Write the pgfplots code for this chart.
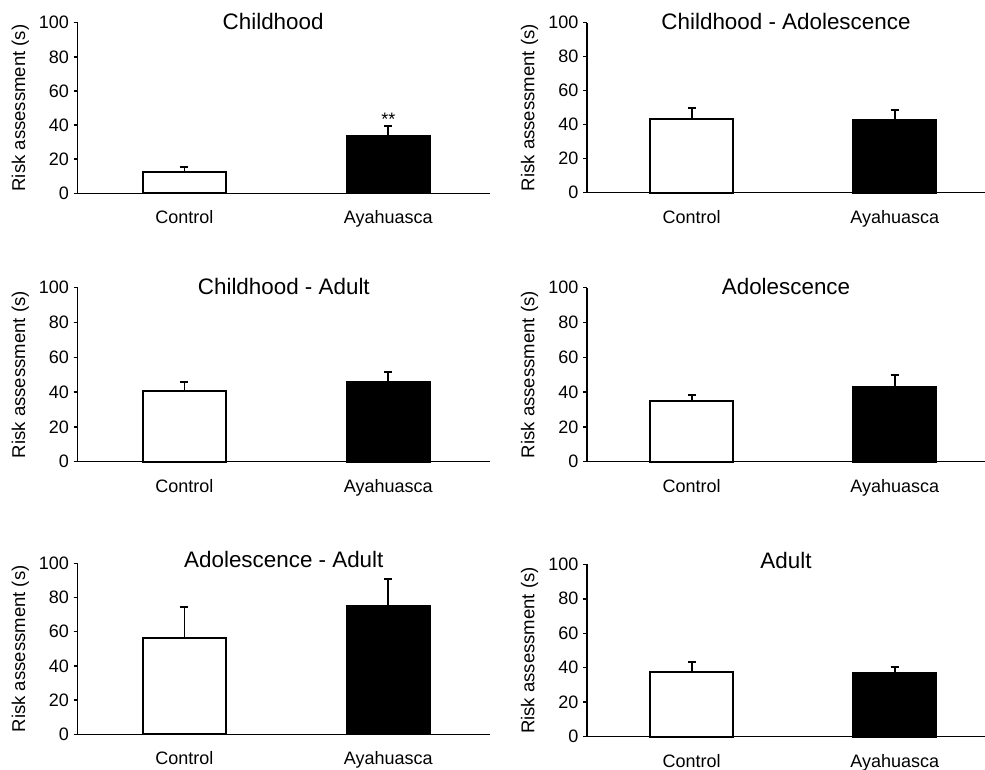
\documentclass[border=0pt]{standalone}
\usepackage{pgfplots}
\pgfplotsset{compat=1.18}
\usepackage{fontspec}
\setmainfont{Liberation Sans}
\pgfplotsset{
  panel/.style={
    scale only axis,
    anchor=south west,
    axis lines*=left,
    axis line style={line width=1.1pt, black},
    ymin=0, ymax=100,
    ytick={0,20,40,60,80,100},
    xtick={0,1},
    xticklabels={Control,Ayahuasca},
    xtick style={draw=none},
    ytick style={line width=1.1pt, black},
    tick align=outside,
    major tick length=3pt,
    /pgf/number format/assume math mode=true,
    ticklabel style={font=\fontsize{13.5}{16}\selectfont},
    xticklabel style={yshift=-6.6pt},
    ylabel={Risk assessment (s)},
    ylabel style={font=\fontsize{13.9}{16}\selectfont, at={(axis description cs:0,0.5)}, anchor=center, yshift=43pt},
    title style={font=\fontsize{16.8}{19}\selectfont, at={(axis description cs:0.5,1)}, anchor=center, yshift=-5pt},
    ybar, bar width=62.25pt,
    clip=false,
  },
  lpanel/.style={panel, width=309.2pt, xmin=-0.524, xmax=1.499},
  rpanel/.style={panel, width=298.5pt, xmin=-0.516, xmax=1.445},
  ctrl/.style={ybar, bar shift=0pt, fill=white, draw=black, line width=1.5pt,
    error bars/.cd, y dir=plus, y explicit,
    error bar style={line width=1.4pt, black},
    error mark options={black, line width=1.4pt, mark size=3pt, rotate=90}},
  ayah/.style={ybar, bar shift=0pt, fill=black, draw=black, line width=1.5pt,
    error bars/.cd, y dir=plus, y explicit,
    error bar style={line width=1.4pt, black},
    error mark options={black, line width=1.4pt, mark size=3pt, rotate=90}},
}
\begin{document}
\begin{tikzpicture}
\path[use as bounding box] (0,0) rectangle (738.75pt,576.75pt);
% Row 1 left: Childhood
\begin{axis}[lpanel, at={(58.275pt,431.775pt)}, height=127.95pt, title={Childhood},
  title style={at={(axis description cs:0.474,1)}}]
\addplot[ctrl] coordinates {(0,12.3) +- (0,3.3)};
\addplot[ayah] coordinates {(1,33.6) +- (0,6.0)};
\node[anchor=base, font=\fontsize{13.5}{16}\selectfont] at (axis cs:1,39.7) {**};
\end{axis}
% Row 1 right: Childhood - Adolescence
\begin{axis}[rpanel, at={(440.25pt,432.225pt)}, height=127.5pt, title={Childhood - Adolescence}]
\addplot[ctrl] coordinates {(0,43.2) +- (0,6.8)};
\addplot[ayah] coordinates {(1,42.6) +- (0,5.9)};
\end{axis}
% Row 2 left: Childhood - Adult
\begin{axis}[lpanel, at={(58.275pt,230.475pt)}, height=130.5pt, title={Childhood - Adult}]
\addplot[ctrl] coordinates {(0,40.8) +- (0,4.8)};
\addplot[ayah] coordinates {(1,46.0) +- (0,5.6)};
\end{axis}
% Row 2 right: Adolescence
\begin{axis}[rpanel, at={(440.25pt,230.475pt)}, height=130.5pt, title={Adolescence}]
\addplot[ctrl] coordinates {(0,34.9) +- (0,3.6)};
\addplot[ayah] coordinates {(1,43.1) +- (0,6.6)};
\end{axis}
% Row 3 left: Adolescence - Adult
\begin{axis}[lpanel, at={(58.275pt,26.025pt)}, height=128.25pt, title={Adolescence - Adult},
  title style={yshift=2pt}]
\addplot[ctrl] coordinates {(0,56.1) +- (0,18.2)};
\addplot[ayah] coordinates {(1,74.9) +- (0,15.9)};
\end{axis}
% Row 3 right: Adult
\begin{axis}[rpanel, at={(440.25pt,24.225pt)}, height=129.3pt, title={Adult},
  title style={yshift=2pt}]
\addplot[ctrl] coordinates {(0,37.7) +- (0,5.6)};
\addplot[ayah] coordinates {(1,36.8) +- (0,3.6)};
\end{axis}
\end{tikzpicture}
\end{document}
